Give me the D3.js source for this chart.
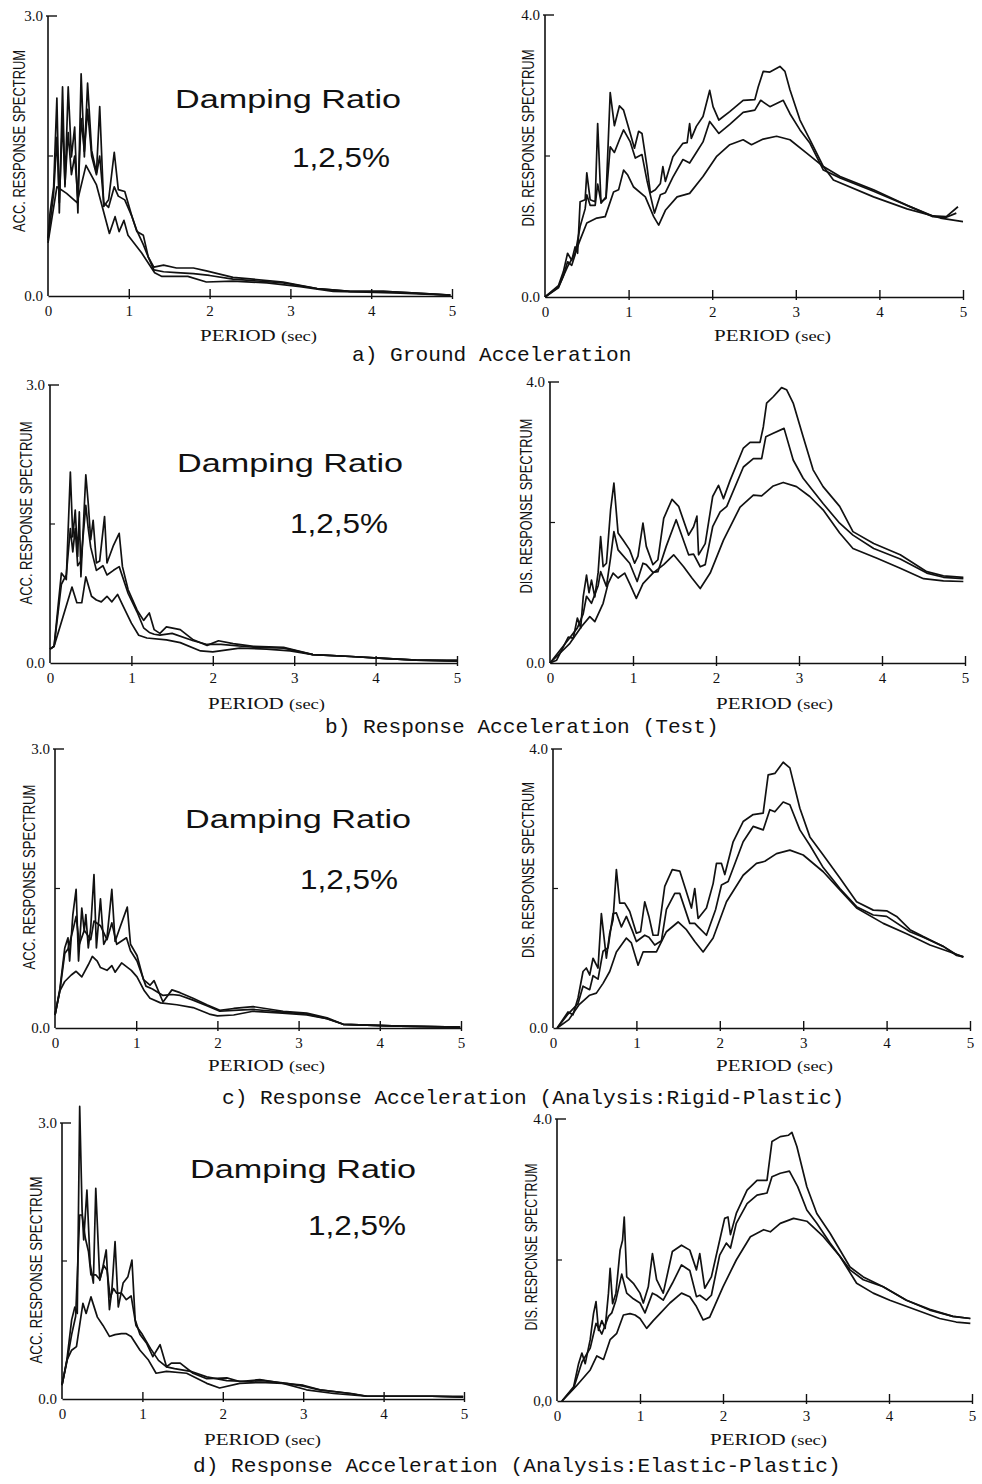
<!DOCTYPE html>
<html>
<head>
<meta charset="utf-8">
<script src="https://cdn.jsdelivr.net/npm/d3@7"></script>
<style>
body { margin: 0; background: #fff; }
text { fill: #111; }
</style>
</head>
<body>
<svg id="fig" width="982" height="1484"></svg>
<script>
// damping ratios of the three curves in each panel
var dampingRatios = [1, 2, 5];
var periodTicks = [0, 1, 2, 3, 4, 5];
var accTickLabels = ["0.0", "3.0"];
var disTickLabels = ["0.0", "4.0"];
var captions = [
    "a) Ground Acceleration",
    "b) Response Acceleration (Test)",
    "c) Response Acceleration (Analysis:Rigid-Plastic)",
    "d) Response Acceleration (Analysis:Elastic-Plastic)"
];

// [period (sec), spectrum value]
// a) ground acceleration
var accA1 = [[0,0.62],[0.025,0.89],[0.07,1.17],[0.11,2.12],[0.14,0.89],[0.18,2.24],[0.21,1.17],[0.25,2.24],[0.29,1.49],[0.33,1.81],[0.37,0.89],[0.41,2.38],[0.45,1.49],[0.49,2.28],[0.54,1.56],[0.60,1.32],[0.64,2.03],[0.69,0.96],[0.75,1.03],[0.82,1.54],[0.87,1.14],[0.95,1.12],[1.04,0.85],[1.10,0.69],[1.18,0.65],[1.24,0.42],[1.31,0.31],[1.43,0.33],[1.59,0.30],[1.80,0.30],[1.96,0.27],[2.29,0.20],[2.91,0.15],[3.33,0.08],[3.74,0.05],[4.15,0.05],[4.56,0.03],[4.98,0.01]];
var accA2 = [[0,0.6],[0.07,1.1],[0.11,1.7],[0.14,1.0],[0.18,1.9],[0.21,1.2],[0.25,1.75],[0.29,1.3],[0.33,1.5],[0.37,1.05],[0.41,1.9],[0.45,1.55],[0.49,2.0],[0.54,1.5],[0.60,1.3],[0.64,1.5],[0.69,1.0],[0.75,0.95],[0.82,1.17],[0.87,1.07],[0.95,1.03],[1.04,0.85],[1.10,0.7],[1.18,0.55],[1.24,0.42],[1.31,0.28],[1.43,0.26],[1.59,0.25],[1.80,0.24],[2.0,0.22],[2.29,0.18],[2.91,0.14],[3.33,0.08],[3.74,0.05],[4.15,0.05],[4.56,0.03],[4.98,0.01]];
var accA5 = [[0,0.57],[0.11,1.17],[0.23,1.1],[0.36,1.0],[0.47,1.40],[0.60,1.19],[0.76,0.67],[0.83,0.85],[0.88,0.69],[0.94,0.81],[0.99,0.65],[1.16,0.46],[1.32,0.25],[1.41,0.21],[1.73,0.21],[1.96,0.15],[2.29,0.16],[2.71,0.14],[3.12,0.10],[3.53,0.05],[3.94,0.04],[4.36,0.03],[4.98,0.01]];
var disA1 = [[0,0],[0.16,0.16],[0.22,0.36],[0.27,0.62],[0.32,0.52],[0.36,0.71],[0.39,0.62],[0.42,1.35],[0.48,1.38],[0.50,1.76],[0.54,1.38],[0.60,1.35],[0.63,2.46],[0.67,1.33],[0.73,1.42],[0.78,2.90],[0.83,2.43],[0.89,2.71],[0.94,2.65],[1.02,2.32],[1.07,2.11],[1.12,2.35],[1.16,2.32],[1.22,1.85],[1.26,1.48],[1.32,1.52],[1.38,1.61],[1.41,1.85],[1.44,1.64],[1.53,1.99],[1.65,2.18],[1.70,2.19],[1.73,2.46],[1.75,2.25],[1.81,2.42],[1.89,2.56],[1.97,2.93],[2.01,2.70],[2.08,2.51],[2.21,2.63],[2.37,2.79],[2.51,2.80],[2.55,2.98],[2.61,3.20],[2.69,3.19],[2.81,3.27],[2.87,3.20],[2.93,2.94],[3.05,2.51],[3.17,2.23],[3.33,1.85],[3.53,1.71],[3.93,1.52],[4.33,1.30],[4.64,1.15],[4.80,1.14],[4.94,1.28]];
var disA2 = [[0,0],[0.16,0.13],[0.22,0.3],[0.27,0.5],[0.32,0.45],[0.36,0.6],[0.42,1.0],[0.48,1.25],[0.50,1.45],[0.54,1.3],[0.60,1.3],[0.63,1.6],[0.67,1.35],[0.73,1.4],[0.78,2.13],[0.83,2.05],[0.89,2.23],[0.94,2.37],[1.02,2.2],[1.08,1.97],[1.16,2.02],[1.22,1.65],[1.31,1.19],[1.38,1.45],[1.44,1.48],[1.53,1.7],[1.65,1.95],[1.73,1.9],[1.81,2.05],[1.89,2.2],[1.97,2.49],[2.08,2.32],[2.21,2.45],[2.37,2.62],[2.51,2.65],[2.58,2.79],[2.69,2.70],[2.85,2.79],[2.93,2.6],[3.05,2.37],[3.17,2.18],[3.33,1.80],[3.53,1.69],[3.93,1.50],[4.33,1.30],[4.64,1.14],[4.80,1.13],[4.92,1.19]];
var disA5 = [[0,0],[0.16,0.14],[0.27,0.43],[0.36,0.62],[0.42,0.81],[0.50,1.05],[0.62,1.12],[0.72,1.14],[0.82,1.49],[0.88,1.52],[0.94,1.80],[0.99,1.73],[1.06,1.56],[1.20,1.42],[1.30,1.14],[1.36,1.02],[1.44,1.23],[1.58,1.42],[1.73,1.47],[1.89,1.71],[2.05,1.99],[2.21,2.16],[2.37,2.23],[2.47,2.16],[2.61,2.24],[2.77,2.28],[2.93,2.23],[3.13,2.04],[3.33,1.85],[3.45,1.66],[3.93,1.42],[4.33,1.25],[4.73,1.12],[5.0,1.07]];

// b) response acceleration (test)
var accB1 = [[0,0.15],[0.05,0.18],[0.14,0.97],[0.20,0.9],[0.25,2.06],[0.28,1.36],[0.31,1.65],[0.34,1.15],[0.36,1.63],[0.38,0.93],[0.44,2.03],[0.47,1.72],[0.50,1.33],[0.53,1.54],[0.57,1.08],[0.61,1.10],[0.67,1.58],[0.70,1.08],[0.78,1.27],[0.85,1.40],[0.89,1.04],[0.96,0.79],[1.07,0.57],[1.15,0.46],[1.22,0.54],[1.28,0.36],[1.35,0.32],[1.43,0.39],[1.60,0.36],[1.76,0.25],[1.93,0.19],[2.07,0.24],[2.25,0.21],[2.50,0.18],[2.87,0.17],[3.23,0.09],[3.69,0.07],[4.09,0.05],[4.50,0.03],[5.0,0.03]];
var accB2 = [[0,0.15],[0.05,0.18],[0.14,0.85],[0.20,0.95],[0.25,1.45],[0.28,1.2],[0.31,1.45],[0.34,1.05],[0.38,1.1],[0.44,1.7],[0.47,1.45],[0.50,1.25],[0.57,1.0],[0.65,1.05],[0.70,0.95],[0.78,1.0],[0.85,1.04],[0.96,0.75],[1.07,0.55],[1.15,0.38],[1.22,0.33],[1.28,0.31],[1.35,0.3],[1.5,0.32],[1.76,0.24],[1.93,0.2],[2.1,0.2],[2.5,0.17],[2.87,0.16],[3.23,0.09],[3.7,0.07],[4.1,0.05],[4.5,0.03],[5.0,0.02]];
var accB5 = [[0,0.15],[0.05,0.18],[0.16,0.5],[0.27,0.82],[0.33,0.65],[0.39,0.65],[0.44,0.93],[0.51,0.72],[0.57,0.68],[0.63,0.66],[0.70,0.72],[0.76,0.66],[0.83,0.74],[0.90,0.61],[1.0,0.43],[1.09,0.30],[1.19,0.27],[1.43,0.25],[1.60,0.22],[1.85,0.13],[2.0,0.12],[2.33,0.16],[2.66,0.15],[2.95,0.13],[3.23,0.09],[3.7,0.07],[4.1,0.05],[4.5,0.03],[5.0,0.02]];
var disB1 = [[0,0],[0.08,0.04],[0.22,0.37],[0.28,0.35],[0.33,0.64],[0.37,0.50],[0.40,0.94],[0.44,1.25],[0.47,1.0],[0.50,1.18],[0.54,0.94],[0.58,1.29],[0.61,1.80],[0.64,1.37],[0.68,1.42],[0.73,2.18],[0.77,2.56],[0.82,1.85],[0.88,1.75],[0.96,1.61],[1.02,1.42],[1.06,1.52],[1.12,1.99],[1.16,1.66],[1.24,1.40],[1.30,1.47],[1.37,2.06],[1.47,2.33],[1.55,2.23],[1.67,1.82],[1.73,1.94],[1.77,2.09],[1.79,1.54],[1.87,1.70],[1.96,2.37],[2.03,2.53],[2.09,2.34],[2.17,2.60],[2.33,3.06],[2.41,3.14],[2.53,3.14],[2.57,3.36],[2.61,3.70],[2.69,3.79],[2.79,3.92],[2.85,3.89],[2.93,3.70],[3.05,3.22],[3.17,2.75],[3.29,2.51],[3.49,2.23],[3.65,1.87],[3.90,1.70],[4.22,1.54],[4.54,1.30],[4.74,1.24],[4.98,1.22]];
var disB2 = [[0,0],[0.22,0.33],[0.33,0.5],[0.40,0.7],[0.44,0.95],[0.50,0.85],[0.58,1.1],[0.61,1.3],[0.68,1.09],[0.73,1.5],[0.77,1.87],[0.82,1.61],[0.96,1.42],[1.05,1.16],[1.12,1.42],[1.16,1.4],[1.24,1.29],[1.30,1.3],[1.40,1.66],[1.52,2.04],[1.67,1.54],[1.73,1.55],[1.81,1.37],[1.87,1.4],[1.96,1.94],[2.05,2.15],[2.13,2.23],[2.33,2.79],[2.45,2.91],[2.55,2.91],[2.60,3.22],[2.69,3.27],[2.82,3.34],[2.93,2.89],[3.05,2.63],[3.29,2.27],[3.49,1.99],[3.65,1.82],[3.90,1.63],[4.22,1.48],[4.54,1.28],[4.74,1.22],[4.98,1.2]];
var disB5 = [[0,0],[0.24,0.28],[0.38,0.52],[0.48,0.66],[0.54,0.59],[0.64,0.85],[0.70,1.13],[0.76,1.28],[0.82,1.21],[0.90,1.28],[0.96,1.13],[1.04,0.92],[1.12,1.13],[1.24,1.28],[1.37,1.40],[1.49,1.54],[1.61,1.37],[1.71,1.21],[1.81,1.06],[1.93,1.28],[2.09,1.75],[2.29,2.22],[2.45,2.39],[2.55,2.38],[2.69,2.52],[2.81,2.57],[2.97,2.51],[3.13,2.37],[3.29,2.18],[3.49,1.85],[3.65,1.63],[3.94,1.49],[4.22,1.35],[4.50,1.20],[4.74,1.17],[4.98,1.16]];

// c) analysis, rigid-plastic
var accC1 = [[0,0.14],[0.06,0.42],[0.12,0.86],[0.16,0.97],[0.18,0.72],[0.22,1.22],[0.26,1.49],[0.29,0.72],[0.33,1.29],[0.36,1.04],[0.38,1.22],[0.41,0.86],[0.44,1.08],[0.48,1.65],[0.51,0.86],[0.56,1.39],[0.60,0.90],[0.64,0.97],[0.70,1.49],[0.74,0.93],[0.80,1.08],[0.89,1.30],[0.93,0.90],[1.01,0.78],[1.09,0.52],[1.17,0.46],[1.22,0.51],[1.33,0.28],[1.44,0.41],[1.54,0.38],[1.70,0.32],[1.87,0.25],[2.03,0.19],[2.20,0.21],[2.44,0.23],[2.81,0.18],[3.10,0.16],[3.35,0.11],[3.55,0.04],[3.84,0.03],[4.25,0.02],[4.99,0.01]];
var accC2 = [[0,0.14],[0.06,0.4],[0.12,0.8],[0.16,0.85],[0.22,1.05],[0.26,1.2],[0.30,0.9],[0.36,1.05],[0.44,0.95],[0.48,1.15],[0.56,1.1],[0.64,0.95],[0.70,1.13],[0.76,0.9],[0.88,0.97],[0.93,0.83],[1.01,0.72],[1.12,0.45],[1.20,0.42],[1.33,0.35],[1.44,0.36],[1.54,0.35],[1.70,0.30],[1.87,0.24],[2.03,0.18],[2.20,0.19],[2.44,0.20],[2.81,0.17],[3.10,0.15],[3.35,0.10],[3.55,0.04],[3.84,0.03],[4.25,0.02],[4.99,0.01]];
var accC5 = [[0,0.14],[0.06,0.4],[0.12,0.5],[0.20,0.57],[0.26,0.61],[0.33,0.55],[0.41,0.68],[0.46,0.77],[0.52,0.72],[0.56,0.65],[0.64,0.62],[0.70,0.67],[0.74,0.6],[0.82,0.7],[0.94,0.62],[1.01,0.55],[1.10,0.40],[1.17,0.32],[1.30,0.27],[1.50,0.25],[1.70,0.22],[1.90,0.15],[2.0,0.13],[2.20,0.14],[2.44,0.18],[2.80,0.16],[3.10,0.14],[3.35,0.10],[3.55,0.04],[3.84,0.03],[4.25,0.02],[4.99,0.01]];
var disC1 = [[0.05,0],[0.18,0.23],[0.24,0.19],[0.30,0.43],[0.36,0.81],[0.40,0.86],[0.44,0.76],[0.48,1.0],[0.54,0.86],[0.58,1.64],[0.64,1.0],[0.68,1.36],[0.72,1.55],[0.76,2.27],[0.80,1.79],[0.86,1.79],[0.92,1.67],[1.0,1.36],[1.05,1.38],[1.10,1.81],[1.15,1.6],[1.20,1.33],[1.26,1.33],[1.34,2.03],[1.43,2.27],[1.52,2.25],[1.60,1.95],[1.66,1.72],[1.70,2.0],[1.74,1.57],[1.84,1.72],[1.92,2.07],[1.96,2.36],[2.02,2.36],[2.06,2.2],[2.16,2.67],[2.28,2.96],[2.40,3.06],[2.52,3.08],[2.58,3.63],[2.66,3.65],[2.76,3.81],[2.84,3.73],[2.96,3.15],[3.08,2.74],[3.24,2.48],[3.44,2.15],[3.64,1.81],[3.84,1.69],[4.0,1.68],[4.12,1.6],[4.28,1.41],[4.44,1.31],[4.68,1.17],[4.84,1.04],[4.92,1.02]];
var disC2 = [[0.05,0],[0.18,0.2],[0.30,0.35],[0.36,0.6],[0.44,0.55],[0.48,0.75],[0.54,0.7],[0.60,1.1],[0.66,1.15],[0.72,1.64],[0.76,1.65],[0.82,1.45],[0.88,1.6],[0.95,1.4],[1.0,1.24],[1.10,1.33],[1.15,1.3],[1.22,1.19],[1.30,1.25],[1.36,1.7],[1.46,1.93],[1.52,1.93],[1.64,1.5],[1.70,1.5],[1.74,1.45],[1.84,1.33],[1.95,1.7],[2.02,2.05],[2.10,2.1],[2.28,2.67],[2.40,2.89],[2.52,2.84],[2.60,3.13],[2.66,3.1],[2.76,3.24],[2.84,3.2],[2.96,2.84],[3.08,2.62],[3.24,2.3],[3.44,2.0],[3.64,1.74],[3.84,1.62],[4.0,1.6],[4.28,1.38],[4.44,1.3],[4.68,1.17],[4.84,1.05],[4.92,1.02]];
var disC5 = [[0.05,0],[0.19,0.12],[0.31,0.33],[0.44,0.47],[0.52,0.50],[0.60,0.64],[0.68,0.81],[0.76,1.09],[0.88,1.29],[0.94,1.22],[1.02,0.90],[1.08,1.09],[1.24,1.09],[1.36,1.38],[1.50,1.52],[1.60,1.41],[1.70,1.24],[1.80,1.09],[1.92,1.29],[2.08,1.81],[2.28,2.19],[2.44,2.36],[2.54,2.39],[2.68,2.5],[2.84,2.55],[3.0,2.48],[3.24,2.24],[3.44,1.98],[3.64,1.72],[3.96,1.5],[4.24,1.35],[4.52,1.19],[4.76,1.09],[4.92,1.02]];

// d) analysis, elastic-plastic
var accD1 = [[0,0.15],[0.06,0.42],[0.12,0.86],[0.16,1.0],[0.19,0.93],[0.22,3.18],[0.25,2.05],[0.27,1.73],[0.31,2.27],[0.35,1.47],[0.39,1.26],[0.42,2.29],[0.47,1.29],[0.51,1.44],[0.55,1.62],[0.59,0.97],[0.62,1.18],[0.66,1.71],[0.70,1.0],[0.76,1.26],[0.82,1.33],[0.87,1.51],[0.91,0.86],[0.97,0.70],[1.05,0.61],[1.13,0.46],[1.22,0.59],[1.30,0.35],[1.36,0.39],[1.47,0.39],[1.63,0.28],[1.80,0.22],[2.05,0.23],[2.21,0.19],[2.46,0.21],[2.75,0.17],[3.0,0.15],[3.21,0.10],[3.58,0.06],[3.79,0.03],[4.2,0.03],[4.62,0.03],[4.99,0.03]];
var accD2 = [[0,0.15],[0.06,0.4],[0.12,0.7],[0.17,0.9],[0.22,2.0],[0.25,2.0],[0.29,1.75],[0.33,1.6],[0.36,1.35],[0.42,1.35],[0.47,1.3],[0.52,1.45],[0.56,1.4],[0.60,1.1],[0.64,1.2],[0.68,1.15],[0.74,1.15],[0.80,1.08],[0.86,1.12],[0.92,0.8],[1.0,0.7],[1.1,0.55],[1.2,0.42],[1.3,0.35],[1.4,0.33],[1.6,0.3],[1.8,0.24],[2.05,0.2],[2.3,0.19],[2.5,0.2],[2.8,0.17],[3.0,0.14],[3.2,0.10],[3.6,0.06],[3.8,0.03],[4.2,0.03],[4.6,0.03],[4.99,0.02]];
var accD5 = [[0,0.15],[0.06,0.42],[0.12,0.53],[0.18,0.57],[0.26,1.04],[0.30,0.93],[0.36,1.11],[0.44,0.89],[0.51,0.80],[0.59,0.68],[0.66,0.70],[0.74,0.71],[0.80,0.71],[0.86,0.68],[0.97,0.53],[1.07,0.43],[1.17,0.28],[1.30,0.30],[1.55,0.28],[1.80,0.17],[1.96,0.12],[2.21,0.17],[2.46,0.18],[2.75,0.17],[3.04,0.10],[3.38,0.06],[3.79,0.03],[4.2,0.03],[4.6,0.03],[4.99,0.02]];
var disD1 = [[0.06,0],[0.20,0.20],[0.26,0.53],[0.30,0.68],[0.34,0.53],[0.40,0.87],[0.44,1.24],[0.47,1.41],[0.50,1.0],[0.54,1.14],[0.58,1.03],[0.62,1.53],[0.64,1.88],[0.67,1.38],[0.71,1.53],[0.76,2.14],[0.79,2.28],[0.81,2.61],[0.84,1.76],[0.92,1.67],[1.0,1.53],[1.04,1.39],[1.10,1.62],[1.15,2.09],[1.20,1.72],[1.28,1.53],[1.39,2.12],[1.50,2.21],[1.60,2.14],[1.68,1.86],[1.72,2.09],[1.78,1.60],[1.86,1.76],[1.96,2.28],[2.02,2.59],[2.06,2.61],[2.09,2.36],[2.16,2.66],[2.29,2.99],[2.41,3.13],[2.53,3.13],[2.59,3.68],[2.69,3.75],[2.79,3.77],[2.83,3.81],[2.89,3.61],[3.01,3.04],[3.13,2.66],[3.29,2.38],[3.53,1.90],[3.69,1.76],[3.93,1.62],[4.21,1.43],[4.49,1.29],[4.77,1.20],[4.98,1.17]];
var disD2 = [[0.06,0],[0.20,0.18],[0.30,0.55],[0.40,0.75],[0.47,1.1],[0.54,0.95],[0.62,1.2],[0.66,1.25],[0.71,1.43],[0.78,1.8],[0.84,1.53],[0.92,1.45],[1.0,1.39],[1.06,1.25],[1.15,1.53],[1.20,1.5],[1.28,1.43],[1.39,1.67],[1.50,1.93],[1.60,1.85],[1.68,1.48],[1.72,1.5],[1.80,1.43],[1.86,1.5],[1.96,2.07],[2.04,2.24],[2.09,2.17],[2.16,2.52],[2.29,2.80],[2.41,2.92],[2.53,2.95],[2.59,3.18],[2.69,3.23],[2.80,3.26],[2.90,3.04],[3.01,2.71],[3.13,2.52],[3.29,2.24],[3.53,1.86],[3.69,1.72],[3.93,1.62],[4.21,1.43],[4.49,1.3],[4.77,1.2],[4.98,1.17]];
var disD5 = [[0.06,0],[0.23,0.21],[0.40,0.44],[0.48,0.64],[0.56,0.59],[0.64,0.87],[0.72,0.96],[0.80,1.22],[0.88,1.24],[0.94,1.22],[1.0,1.17],[1.08,1.03],[1.16,1.14],[1.24,1.24],[1.36,1.39],[1.50,1.53],[1.60,1.48],[1.68,1.34],[1.76,1.15],[1.84,1.19],[2.0,1.62],[2.16,2.0],[2.33,2.33],[2.49,2.43],[2.57,2.40],[2.69,2.52],[2.85,2.59],[3.01,2.55],[3.21,2.33],[3.41,2.05],[3.61,1.67],[3.81,1.53],[4.01,1.43],[4.33,1.29],[4.61,1.17],[4.81,1.12],[4.98,1.10]];

// panel placement on the page (the scan is not quite regular)
var panels = [
    {x0: 48,  x5: 452, y0: 296,  yTop: 16,   max: 3, series: [accA1, accA2, accA5], yLab: "ACC. RESPONSE SPECTRUM", lx: 19,  ly: 141,  ll: 182, px: 258, py: 341,  damp: [175, 108, 292, 167]},
    {x0: 545, x5: 963, y0: 297,  yTop: 15,   max: 4, series: [disA1, disA2, disA5], yLab: "DIS. RESPONSE SPECTRUM", lx: 528, ly: 138,  ll: 177, px: 772, py: 341},
    {x0: 50,  x5: 457, y0: 663,  yTop: 385,  max: 3, series: [accB1, accB2, accB5], yLab: "ACC. RESPONSE SPECTRUM", lx: 26,  ly: 513,  ll: 183, px: 266, py: 709,  damp: [177, 472, 290, 533]},
    {x0: 550, x5: 965, y0: 663,  yTop: 382,  max: 4, series: [disB1, disB2, disB5], yLab: "DIS. RESPONSE SPECTRUM", lx: 526, ly: 506,  ll: 175, px: 774, py: 709},
    {x0: 55,  x5: 461, y0: 1028, yTop: 749,  max: 3, series: [accC1, accC2, accC5], yLab: "ACC. RESPONSE SPECTRUM", lx: 29,  ly: 877,  ll: 185, px: 266, py: 1071, damp: [185, 828, 300, 889]},
    {x0: 553, x5: 970, y0: 1028, yTop: 749,  max: 4, series: [disC1, disC2, disC5], yLab: "DIS. RESPONSE SPECTRUM", lx: 528, ly: 870,  ll: 176, px: 774, py: 1071},
    {x0: 62,  x5: 464, y0: 1399, yTop: 1123, max: 3, series: [accD1, accD2, accD5], yLab: "ACC. RESPONSE SPECTRUM", lx: 36,  ly: 1270, ll: 187, px: 262, py: 1445, damp: [190, 1178, 308, 1235]},
    {x0: 557, x5: 972, y0: 1401, yTop: 1119, max: 4, series: [disD1, disD2, disD5], yLab: "DIS. RESPCNSE SPECTRUM", lx: 531, ly: 1247, ll: 167, px: 768, py: 1445, zeroLab: "0,0"}
];
var captionPos = [[352, 361], [325, 733], [222, 1104], [193, 1472]];

var svg = d3.select("#fig");
var serif = "'Liberation Serif', 'DejaVu Serif', serif";
var sans = "'Liberation Sans', Arial, sans-serif";

panels.forEach(function(p) {
    var x = d3.scaleLinear().domain([0, 5]).range([p.x0, p.x5]);
    var y = d3.scaleLinear().domain([0, p.max]).range([p.y0, p.yTop]);
    var g = svg.append("g");

    // x axis with inward ticks
    var xAxis = d3.axisBottom(x)
        .tickValues(periodTicks)
        .tickSizeInner(-7)
        .tickSizeOuter(0)
        .tickPadding(9)
        .tickFormat(d3.format("d"));
    var ax = g.append("g")
        .attr("transform", "translate(0," + p.y0 + ")")
        .call(xAxis);
    ax.select(".domain").attr("stroke", "#111").attr("stroke-width", 1.6);
    ax.selectAll(".tick line").attr("stroke", "#111").attr("stroke-width", 1.4).attr("y2", -7).attr("y1", 3);
    ax.selectAll(".tick text")
        .attr("font-family", serif)
        .attr("font-size", 15)
        .attr("fill", "#111");
    ax.selectAll(".tick").filter(function(d) { return d === 0; }).select("line").remove();

    // y axis
    g.append("line")
        .attr("x1", x(0)).attr("x2", x(0))
        .attr("y1", p.y0).attr("y2", p.yTop)
        .attr("stroke", "#111").attr("stroke-width", 1.6);
    g.append("line")
        .attr("x1", x(0) - 2).attr("x2", x(0) + 9)
        .attr("y1", y(p.max)).attr("y2", y(p.max))
        .attr("stroke", "#111").attr("stroke-width", 1.4);
    g.append("line")
        .attr("x1", x(0)).attr("x2", x(0) + 5)
        .attr("y1", y(p.max / 2)).attr("y2", y(p.max / 2))
        .attr("stroke", "#111").attr("stroke-width", 1.2);

    var labs = p.max === 3 ? accTickLabels : disTickLabels;
    [0, p.max].forEach(function(v, i) {
        var t = labs[i];
        if (i === 0 && p.zeroLab) t = p.zeroLab;
        g.append("text")
            .attr("x", x(0) - 5)
            .attr("y", y(v))
            .attr("dy", "0.35em")
            .attr("text-anchor", "end")
            .attr("font-family", serif)
            .attr("font-size", 15)
            .text(t);
    });

    // rotated axis title
    g.append("text")
        .attr("transform", "translate(" + (p.lx + 6) + "," + p.ly + ") rotate(-90)")
        .attr("text-anchor", "middle")
        .attr("font-family", sans)
        .attr("font-size", 16)
        .attr("textLength", p.ll)
        .attr("lengthAdjust", "spacingAndGlyphs")
        .text(p.yLab);

    var pt = g.append("text")
        .attr("x", p.px - 58)
        .attr("y", p.py)
        .attr("font-family", serif)
        .attr("textLength", 117)
        .attr("lengthAdjust", "spacingAndGlyphs");
    pt.append("tspan").attr("font-size", 17).text("PERIOD ");
    pt.append("tspan").attr("font-size", 15).text("(sec)");

    // the three damping curves
    var line = d3.line()
        .x(function(d) { return x(d[0]); })
        .y(function(d) { return y(d[1]); });
    p.series.forEach(function(s) {
        g.append("path")
            .datum(s)
            .attr("d", line)
            .attr("fill", "none")
            .attr("stroke", "#111")
            .attr("stroke-width", 1.7)
            .attr("stroke-linejoin", "round");
    });

    if (p.damp) {
        g.append("text")
            .attr("x", p.damp[0]).attr("y", p.damp[1])
            .attr("font-family", sans)
            .attr("font-size", 26)
            .attr("textLength", 226)
            .attr("lengthAdjust", "spacingAndGlyphs")
            .text("Damping Ratio");
        g.append("text")
            .attr("x", p.damp[2]).attr("y", p.damp[3])
            .attr("font-family", sans)
            .attr("font-size", 28)
            .attr("textLength", 98)
            .attr("lengthAdjust", "spacingAndGlyphs")
            .text(dampingRatios.join(",") + "%");
    }
});

captions.forEach(function(c, i) {
    svg.append("text")
        .attr("x", captionPos[i][0])
        .attr("y", captionPos[i][1])
        .attr("font-family", "'Liberation Mono', 'DejaVu Sans Mono', monospace")
        .attr("font-size", 21)
        .attr("textLength", c.length * 12.7)
        .attr("lengthAdjust", "spacingAndGlyphs")
        .text(c);
});
</script>
</body>
</html>
